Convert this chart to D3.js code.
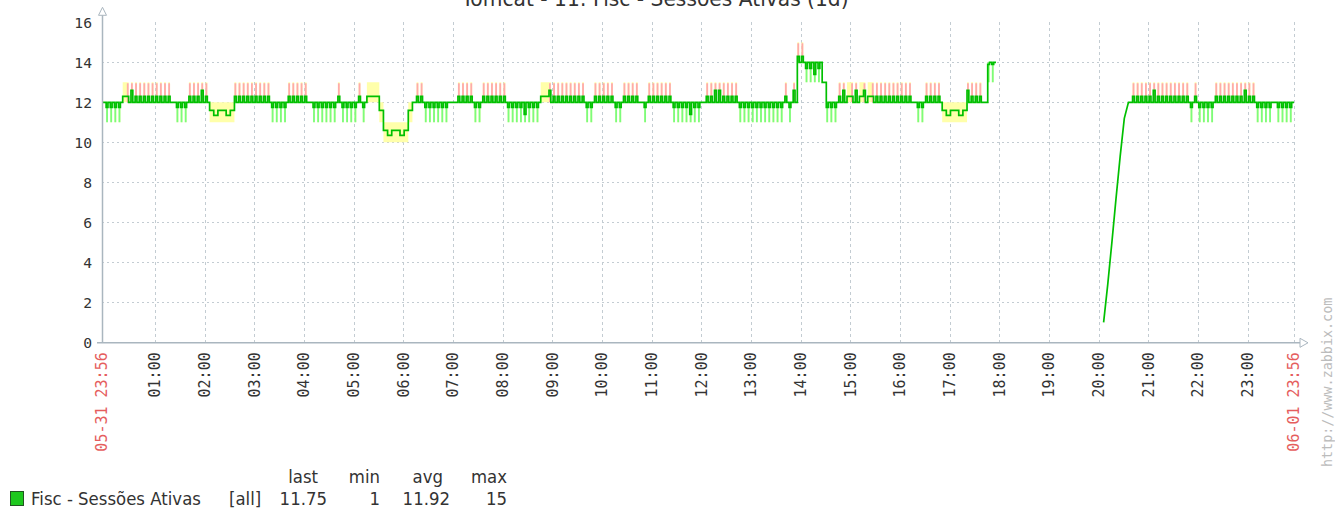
<!DOCTYPE html>
<html lang="pt">
<head>
  <meta charset="UTF-8">
  <title>Tomcat - 11: Fisc - Sessões Ativas (1d)</title>
  <script src="https://d3js.org/d3.v7.min.js"></script>
  <style>
    body, html { margin: 0; padding: 0; background: #fff; overflow: hidden; }
    svg { display: block; }
    .mono { font-family: "DejaVu Sans Mono", monospace; fill: #333; }
    .sans { font-family: "DejaVu Sans", sans-serif; fill: #333; }
  </style>
</head>
<body>
  <div id="chart"></div>

  <script>
    // Graph period and labels
    const title = 'Tomcat - 11: Fisc - Sessões Ativas (1d)';
    const periodStart = new Date(2015, 4, 31, 23, 56);
    const periodEnd = new Date(2015, 5, 1, 23, 56);
    const startLabel = '05-31 23:56';
    const endLabel = '06-01 23:56';
    const hourLabels = ['01:00', '02:00', '03:00', '04:00', '05:00', '06:00', '07:00', '08:00',
      '09:00', '10:00', '11:00', '12:00', '13:00', '14:00', '15:00', '16:00', '17:00', '18:00',
      '19:00', '20:00', '21:00', '22:00', '23:00'];
    const yTicks = [0, 2, 4, 6, 8, 10, 12, 14, 16];

    // One char per 5 minute slot, one string per hour
    const slotRows = [
      '.vvvvy^*^^^^', '^^^^^.vvv^^^', '*^lLllLl^^^^', '^^^^^vvvv^^^',
      '^^.vvvvvv^vv', 'vv^vyyyldDdd', 'Ddl.^^vvvvvv', '..^^^^vv^^^^',
      '^^vvvvVvvvyy', '*^^^^^^^^vv^', '^^^^vv^^^^.v', '^^^^^^vvvvVv',
      'v.^^**^^^^vv', 'vvvvvvvvv^v*', 'HHhhghkvvv^*', 'y^*y*y^^^^^^',
      '^^^^.vv^^^^l', 'LllLl*^^^.tt', '____________', '____________',
      '__rrrrrr.^^^', '^^*^^^^^^^^v', '^vvvv^^^^^^^', '*^^vvvv.vvvv'
    ];
    // code -> [min, avg, max]; half-slot codes fall back to `base` for the rest of the slot
    const codeMin  = { '.': 12, 'y': 12,   'l': 11,   'L': 11,    'd': 10,   'D': 10,    'k': 13,
                       '^': 12, '*': 12,   'v': 11,   'V': 11,    'H': 14,   'h': 13,    'g': 13,   't': 13 };
    const codeAvg  = { '.': 12, 'y': 12.3, 'l': 11.6, 'L': 11.35, 'd': 10.6, 'D': 10.35, 'k': 13,
                       '^': 12.3, '*': 12.6, 'v': 11.75, 'V': 11.4, 'H': 14.3, 'h': 13.7, 'g': 13.4, 't': 13.9 };
    const codeMax  = { '.': 12, 'y': 13,   'l': 12,   'L': 12,    'd': 11,   'D': 11,    'k': 13,
                       '^': 13, '*': 13,   'v': 12,   'V': 12,    'H': 15,   'h': 14,    'g': 14,   't': 14 };
    const codeBase = { '^': 12, '*': 12, 'v': 12, 'V': 12, 'H': 14, 'h': 14, 'g': 14, 't': 14 };
    // climb after the gap, one value per slot (20:06 .. 20:31)
    const rampValues = [1, 2.9, 5, 7.2, 9.3, 11.2];

    const legendName = 'Fisc - Sessões Ativas';
    const legendFunc = '[all]';
    const statHeaders = ['last', 'min', 'avg', 'max'];
    const statValues = ['11.75', '1', '11.92', '15'];

    // Layout
    const W = 1335, H = 510;
    const plot = { left: 102, right: 1294, top: 22.3, bottom: 342.3 };
    const axisColor = '#aab6bf';
    const gridColor = '#c3ccd2';

    const svg = d3.select('#chart').append('svg').attr('width', W).attr('height', H);

    const x = d3.scaleTime().domain([periodStart, periodEnd]).range([plot.left, plot.right]);
    const y = d3.scaleLinear().domain([0, 16]).range([plot.bottom, plot.top]);
    const at = min => new Date(+periodStart + min * 60000);

    // Build the point list from the slot codes
    const SLOT = 5, SPIKE = 2.2;
    const points = [];
    let rampIdx = 0;
    slotRows.join('').split('').forEach((c, k) => {
      const t = k * SLOT;
      if (c === '_') {
        points.push({ t: at(t), gap: true });
      } else if (c === 'r') {
        const v = rampValues[rampIdx++];
        points.push({ t: at(t), lo: v, av: v, hi: v, kind: 'full' });
      } else if (codeBase[c] !== undefined) {
        const b = codeBase[c];
        const kind = codeMax[c] > b ? 'up' : 'down';
        const spike = { lo: codeMin[c], av: codeAvg[c], hi: codeMax[c], kind };
        points.push({ t: at(t), ...spike }, { t: at(t + SPIKE), ...spike });
        points.push({ t: at(t + SPIKE), lo: b, av: b, hi: b, kind: 'full' },
                    { t: at(t + SLOT), lo: b, av: b, hi: b, kind: 'full' });
      } else {
        const v = { lo: codeMin[c], av: codeAvg[c], hi: codeMax[c], kind: 'full' };
        points.push({ t: at(t), ...v }, { t: at(t + SLOT), ...v });
      }
    });

    // Grid
    const grid = svg.append('g').attr('shape-rendering', 'crispEdges');
    grid.selectAll('line.h')
      .data(yTicks.filter(v => v > 0 && v < 16))
      .join('line')
      .attr('x1', plot.left).attr('x2', plot.right)
      .attr('y1', d => Math.round(y(d)) + 0.5).attr('y2', d => Math.round(y(d)) + 0.5)
      .attr('stroke', gridColor).attr('stroke-dasharray', '2,3');

    const hourDates = hourLabels.map((_, i) => d3.timeHour.offset(d3.timeHour.ceil(periodStart), i + 1));
    grid.selectAll('line.v')
      .data(hourDates.concat([periodEnd]))
      .join('line')
      .attr('x1', d => Math.round(x(d)) + 0.5).attr('x2', d => Math.round(x(d)) + 0.5)
      .attr('y1', plot.top).attr('y2', plot.bottom)
      .attr('stroke', gridColor).attr('stroke-dasharray', '3,3');

    // Data
    const data = svg.append('g');
    const ok = d => !d.gap;

    data.append('path')
      .attr('d', d3.area().defined(ok).x(d => x(d.t)).y0(d => y(d.lo)).y1(d => y(d.hi))(points))
      .attr('fill', '#ffffaa');

    data.append('path')
      .attr('d', d3.area().defined(d => d.kind === 'up')
        .x(d => x(d.t)).y0(d => y(d.lo)).y1(d => y(d.hi) + 1)(points))
      .attr('fill', '#ffaaaa');

    data.append('path')
      .attr('d', d3.area().defined(d => d.kind === 'down')
        .x(d => x(d.t)).y0(d => y(d.lo)).y1(d => y(d.hi))(points))
      .attr('fill', '#7cfc7c');

    data.append('path')
      .attr('d', d3.line().defined(ok).x(d => x(d.t)).y(d => y(d.av))(points))
      .attr('fill', 'none')
      .attr('stroke', '#00c000')
      .attr('stroke-width', 1.7)
      .attr('stroke-linejoin', 'miter');

    // Axes lines with hollow arrows
    const axes = svg.append('g').attr('stroke', axisColor).attr('fill', '#fff');
    axes.append('line')
      .attr('x1', plot.left + 0.5).attr('x2', plot.left + 0.5)
      .attr('y1', plot.bottom).attr('y2', plot.top - 7)
      .attr('stroke-width', 1.5);
    axes.append('path')
      .attr('d', `M${plot.left - 3.5},${plot.top - 7} L${plot.left + 0.5},${plot.top - 15} L${plot.left + 4.5},${plot.top - 7} Z`);
    axes.append('line')
      .attr('x1', plot.left - 5).attr('x2', plot.right + 6)
      .attr('y1', plot.bottom + 0.5).attr('y2', plot.bottom + 0.5)
      .attr('stroke-width', 1.5);
    axes.append('path')
      .attr('d', `M${plot.right + 6},${plot.bottom - 4} L${plot.right + 14},${plot.bottom + 0.5} L${plot.right + 6},${plot.bottom + 5} Z`);

    // Y labels
    const yAxis = svg.append('g')
      .attr('transform', `translate(${plot.left},0)`)
      .call(d3.axisLeft(y).tickValues(yTicks).tickSize(0).tickPadding(10));
    yAxis.select('.domain').remove();
    yAxis.selectAll('text').attr('class', 'mono').style('font-size', '14.7px');

    // X labels, rotated
    const xAxis = svg.append('g')
      .attr('transform', `translate(0,${plot.bottom})`)
      .call(d3.axisBottom(x).tickValues(hourDates).tickFormat((d, i) => hourLabels[i]).tickSize(0));
    xAxis.select('.domain').remove();
    xAxis.selectAll('text')
      .attr('class', 'mono')
      .style('font-size', '15px')
      .attr('text-anchor', 'end')
      .attr('transform', 'rotate(-90)')
      .attr('x', -10).attr('y', 5).attr('dy', 0);

    [[periodStart, startLabel], [periodEnd, endLabel]].forEach(([d, label]) => {
      svg.append('text')
        .attr('class', 'mono')
        .style('font-size', '15px')
        .style('fill', '#e55d5d')
        .attr('text-anchor', 'end')
        .attr('transform', `translate(${x(d) + 5},${plot.bottom + 10}) rotate(-90)`)
        .text(label);
    });

    // Watermark
    svg.append('text')
      .attr('class', 'mono')
      .style('font-size', '13.4px')
      .style('fill', '#bcbcbc')
      .attr('transform', `translate(1332,467) rotate(-90)`)
      .text('http://www.zabbix.com');

    // Title (mostly off the top edge, as in the source image)
    svg.append('text')
      .attr('class', 'sans')
      .style('font-size', '22px')
      .attr('text-anchor', 'middle')
      .attr('transform', 'translate(655,6) scale(0.92,1)')
      .text(title);

    // Legend
    const legend = svg.append('g');
    legend.append('rect')
      .attr('x', 10.5).attr('y', 491.5).attr('width', 13).attr('height', 14)
      .attr('fill', '#1ec81e').attr('stroke', '#225522');
    const legendText = (txt, px, py, anchor) => legend.append('text')
      .attr('class', 'sans')
      .style('font-size', '18px')
      .attr('text-anchor', anchor)
      .attr('transform', `translate(${px},${py}) scale(0.92,1)`)
      .text(txt);
    legendText(legendName, 31, 505, 'start');
    legendText(legendFunc, 229, 505, 'start');
    const headerEnds = [318, 380, 443, 507];
    const valueEnds = [327, 380, 450, 507];
    statHeaders.forEach((h, i) => legendText(h, headerEnds[i], 483, 'end'));
    statValues.forEach((v, i) => legendText(v, valueEnds[i], 505, 'end'));
  </script>
</body>
</html>
